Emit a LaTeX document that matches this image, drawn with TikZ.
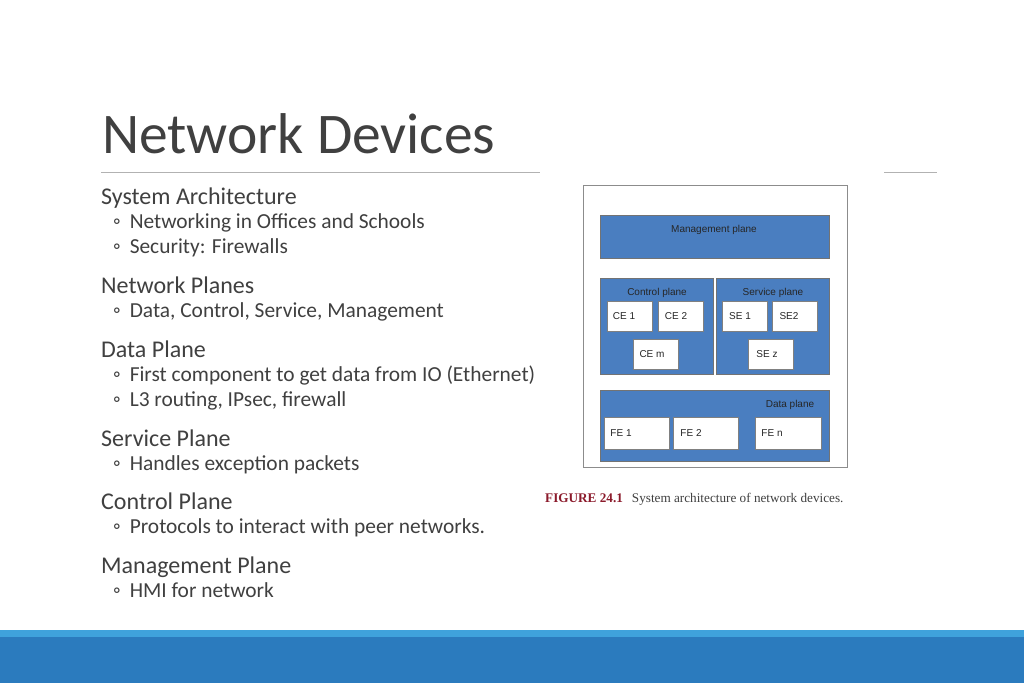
\documentclass[tikz,border=0pt]{standalone}
\usepackage{fontspec}
\setmainfont{Carlito}
\newfontfamily\arialf{Liberation Sans}
\newfontfamily\capf{Liberation Serif}
\begin{document}
\begin{tikzpicture}[x=1pt,y=-1pt,
  txt/.style={anchor=base west,inner sep=0,text=black!75},
  head/.style={txt,font=\fontsize{24}{28}\selectfont},
  bul/.style={txt,font=\fontsize{21.4}{24}\selectfont},
  el/.style={draw=black!50,fill=white,line width=0.6pt},
  lab/.style={font=\arialf\fontsize{10}{12}\selectfont,text=black!85,inner sep=0}]
\definecolor{pb}{HTML}{4A7EC0}
\definecolor{barb}{HTML}{2B7BBE}
\definecolor{barl}{HTML}{3FA2DC}
\useasboundingbox (0,0) rectangle (1024,683);
\fill[white] (0,0) rectangle (1024,683);
\node[txt,font=\fontsize{57.5}{62}\selectfont] (title) at (102,153) {Network Devices};
\draw[black!30] (101,172) -- (540,172);
\draw[black!30] (884,172) -- (937,172);
\node[head] (h1) at (101,204) {System Architecture};
\node[bul] (b1) at (113,228) {◦\hspace{9pt}Networking in Offices and Schools};
\node[bul] (b2) at (113,253) {◦\hspace{9pt}Security: Firewalls};
\node[head] (h2) at (101,293) {Network Planes};
\node[bul] (b3) at (113,317) {◦\hspace{9pt}Data, Control, Service, Management};
\node[head] (h3) at (101,357) {Data Plane};
\node[bul] (b4) at (113,381) {◦\hspace{9pt}First component to get data from IO (Ethernet)};
\node[bul] (b5) at (113,406) {◦\hspace{9pt}L3 routing, IPsec, firewall};
\node[head] (h4) at (101,446) {Service Plane};
\node[bul] (b6) at (113,470) {◦\hspace{9pt}Handles exception packets};
\node[head] (h5) at (101,509) {Control Plane};
\node[bul] (b7) at (113,533) {◦\hspace{9pt}Protocols to interact with peer networks.};
\node[head] (h6) at (101,573) {Management Plane};
\node[bul] (b8) at (113,597) {◦\hspace{9pt}HMI for network};
% figure
\draw[black!45,line width=0.8pt] (583,185) rectangle (847,467);
\tikzset{plane/.style={draw=black!55,fill=pb,line width=0.6pt}}
\draw[plane] (600,215) rectangle (829,258);
\node[lab] (mp) at (714,230) {Management plane};
\draw[plane] (600,278) rectangle (713,374);
\node[lab] (cp) at (657,293) {Control plane};
\draw[plane] (716,278) rectangle (829,374);
\node[lab] (sp) at (773,293) {Service plane};
\draw[plane] (600,390) rectangle (829,461);
\node[lab] (dp) at (790,405) {Data plane};
\draw[el] (607,301) rectangle (652,331); \node[lab] (ce1) at (624,316) {CE 1};
\draw[el] (658,301) rectangle (703,331); \node[lab] (ce2) at (676,316) {CE 2};
\draw[el] (633,339) rectangle (678,369); \node[lab] (cem) at (652,354) {CE m};
\draw[el] (722,301) rectangle (767,331); \node[lab] (se1) at (740,316) {SE 1};
\draw[el] (772,301) rectangle (817,331); \node[lab] (se2) at (789,316) {SE2};
\draw[el] (748,339) rectangle (793,369); \node[lab] (sez) at (767,354) {SE z};
\draw[el] (604,417) rectangle (669,449); \node[lab] (fe1) at (621,433) {FE 1};
\draw[el] (673,417) rectangle (738,449); \node[lab] (fe2) at (691,433) {FE 2};
\draw[el] (755,417) rectangle (821,449); \node[lab] (fen) at (772,433) {FE n};
\node[anchor=base west,inner sep=0,font=\capf\fontsize{13.2}{15}\selectfont] (cap) at (545,502)
  {\textcolor[HTML]{8B1A2B}{\textbf{FIGURE 24.1}}\hspace{9pt}\textcolor{black!75}{System architecture of network devices.}};
% bottom bar
\fill[barb] (0,630) rectangle (1024,683);
\fill[barl] (0,630) rectangle (1024,637);
\end{tikzpicture}
\end{document}
